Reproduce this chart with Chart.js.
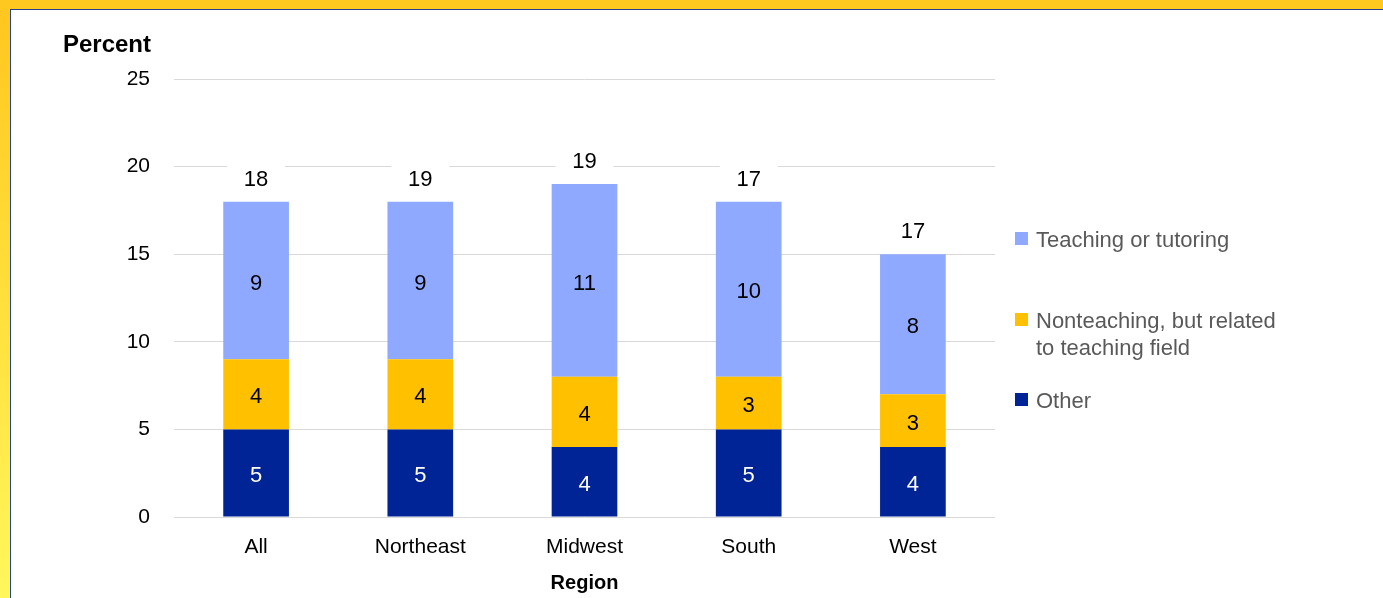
<!DOCTYPE html>
<html>
<head>
<meta charset="utf-8">
<script src="https://cdn.jsdelivr.net/npm/chart.js@4"></script>
<style>
    body { margin: 0; background: #fff; }
    #wrap { position: relative; width: 1383px; height: 598px; overflow: hidden;
        background: linear-gradient(to bottom, #ffc61e, #ffdd38 45%, #fff75c); }
    #top-band { position: absolute; left: 0; top: 0; width: 1383px; height: 9px; background: #ffc820; }
    #paper { position: absolute; left: 10px; top: 9px; right: 0; bottom: 0; background: #fff;
        border-left: 1.5px solid #1f44a8; border-top: 1.5px solid #23408f; }
    #chart { position: absolute; left: 0; top: 0; }
</style>
</head>
<body>
<div id="wrap">
    <div id="top-band"></div>
    <div id="paper"></div>
    <canvas id="chart" width="1383" height="598"></canvas>
</div>
<script>
const regions = ["All", "Northeast", "Midwest", "South", "West"];
const otherValues = [5, 5, 4, 5, 4];
const nonteachingValues = [4, 4, 4, 3, 3];
const teachingValues = [9, 9, 11, 10, 8];
// totals printed above the bars (as shown in the source, not the stacked sums)
const totalLabels = [18, 19, 19, 17, 17];
const yTicks = [0, 5, 10, 15, 20, 25];

const FONT = "'Liberation Sans', Arial, sans-serif";

// Labels inside each segment and totals on top
const barLabels = {
    id: "barLabels",
    afterDatasetsDraw(chart) {
        const ctx = chart.ctx;
        ctx.save();
        ctx.font = "22px " + FONT;
        ctx.textAlign = "center";
        ctx.textBaseline = "middle";
        chart.data.datasets.forEach((ds, di) => {
            const meta = chart.getDatasetMeta(di);
            meta.data.forEach((bar, i) => {
                ctx.fillStyle = ds.labelColor;
                ctx.fillText(String(ds.data[i]), bar.x, (bar.y + bar.base) / 2 + 3);
            });
        });
        const topMeta = chart.getDatasetMeta(chart.data.datasets.length - 1);
        topMeta.data.forEach((bar, i) => {
            const y = bar.y - 24;
            ctx.fillStyle = "#fff";
            ctx.fillRect(bar.x - 29, y - 13, 58, 26);
            ctx.fillStyle = "#000";
            ctx.fillText(String(totalLabels[i]), bar.x, y + 2);
        });
        ctx.restore();
    },
};

// "Percent" label above the y axis and the legend on the right
const extras = {
    id: "extras",
    afterDraw(chart) {
        const ctx = chart.ctx;
        ctx.save();
        ctx.font = "bold 24px " + FONT;
        ctx.fillStyle = "#000";
        ctx.textAlign = "right";
        ctx.textBaseline = "middle";
        ctx.fillText("Percent", 151, 45);

        const items = [
            { ds: 2, lines: ["Teaching or tutoring"], y: 239 },
            { ds: 1, lines: ["Nonteaching, but related", "to teaching field"], y: 320 },
            { ds: 0, lines: ["Other"], y: 400 },
        ];
        ctx.font = "22px " + FONT;
        ctx.textAlign = "left";
        items.forEach((it) => {
            ctx.fillStyle = chart.data.datasets[it.ds].backgroundColor;
            ctx.fillRect(1015, it.y - 7, 13, 13);
            ctx.fillStyle = "#595959";
            it.lines.forEach((line, k) => {
                ctx.fillText(line, 1036, it.y + 2 + k * 27);
            });
        });
        ctx.restore();
    },
};

const ctx = document.getElementById("chart").getContext("2d");
new Chart(ctx, {
    type: "bar",
    data: {
        labels: regions,
        datasets: [
            { label: "Other", data: otherValues, backgroundColor: "#002396", labelColor: "#fff" },
            { label: "Nonteaching, but related to teaching field", data: nonteachingValues, backgroundColor: "#ffc000", labelColor: "#000" },
            { label: "Teaching or tutoring", data: teachingValues, backgroundColor: "#8ea9ff", labelColor: "#000" },
        ],
    },
    options: {
        responsive: false,
        animation: false,
        barPercentage: 0.4,
        categoryPercentage: 1.0,
        layout: { padding: { left: 0, top: 79, right: 388, bottom: 0 } },
        plugins: {
            legend: { display: false },
            tooltip: { enabled: false },
        },
        scales: {
            x: {
                stacked: true,
                grid: { display: false },
                border: { display: false },
                ticks: { color: "#000", font: { family: FONT, size: 21 }, padding: 10 },
                title: {
                    display: true,
                    text: "Region",
                    color: "#000",
                    font: { family: FONT, size: 20, weight: "bold" },
                    padding: { top: 0, bottom: 3 },
                },
                afterFit: (s) => { s.height = 81; },
            },
            y: {
                stacked: true,
                min: 0,
                max: 25,
                afterBuildTicks: (s) => { s.ticks = yTicks.map((v) => ({ value: v })); },
                grid: { color: "#d9d9d9", drawTicks: false, lineWidth: 1 },
                border: { display: false },
                ticks: { color: "#000", font: { family: FONT, size: 21 }, padding: 24 },
                afterFit: (s) => { s.width = 174; },
            },
        },
    },
    plugins: [barLabels, extras],
});
</script>
</body>
</html>
